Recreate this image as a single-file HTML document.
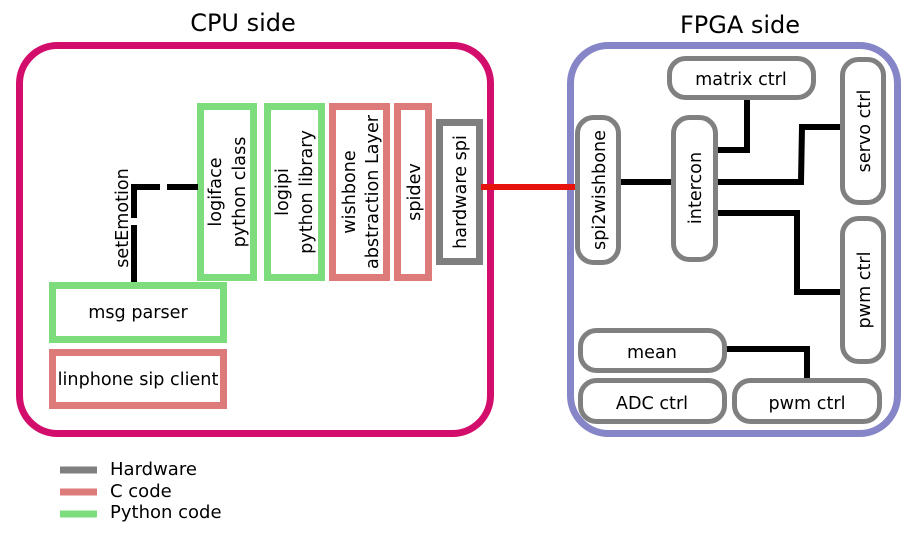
<!DOCTYPE html>
<html><head><style>body{margin:0;background:#fff}svg{display:block}text{font-family:"DejaVu Sans","Liberation Sans",sans-serif;fill:#000}</style></head><body>
<svg width="917" height="536" viewBox="0 0 917 536" xmlns="http://www.w3.org/2000/svg">
<text x="243" y="31" font-size="24" text-anchor="middle">CPU side</text>
<text x="740" y="33" font-size="24" text-anchor="middle">FPGA side</text>
<rect x="19.5" y="45.5" width="471" height="388" rx="38" fill="none" stroke="#d30d6b" stroke-width="7"/>
<rect x="570.5" y="45.5" width="327" height="388" rx="38" fill="none" stroke="#8585c8" stroke-width="7"/>
<g fill="none" stroke-width="7">
<rect x="200.5" y="106.5" width="53" height="171" stroke="#7ddd7d"/>
<rect x="267.5" y="106.5" width="54" height="171" stroke="#7ddd7d"/>
<rect x="332.5" y="106.5" width="54" height="171" stroke="#dd7a7a"/>
<rect x="397.5" y="106.5" width="31" height="171" stroke="#dd7a7a"/>
<rect x="439.5" y="122.5" width="40" height="139" stroke="#7f7f7f"/>
<rect x="52.5" y="285.5" width="171" height="54" stroke="#7ddd7d"/>
<rect x="52.5" y="352.5" width="171" height="53" stroke="#dd7a7a"/>
</g>
<g stroke="#000" stroke-width="6" fill="none">
<path d="M134 282 V225 M134 218 V187 H160 M167 187 H198"/>
</g>
<line x1="481" y1="187" x2="576" y2="187" stroke="#e8120c" stroke-width="6"/>
<g stroke="#000" stroke-width="6" fill="none">
<path d="M619 182 H673"/>
<path d="M716 150 H747 V99"/>
<path d="M716 182 H801 L802 127 H842"/>
<path d="M716 213 H797 V292 H842"/>
<path d="M725 349 H807 V380"/>
</g>
<g fill="#fff" stroke="#808080" stroke-width="5">
<rect x="669.5" y="58.5" width="144" height="39" rx="16"/>
<rect x="842.5" y="59.5" width="41" height="143" rx="16"/>
<rect x="577.5" y="117.5" width="41" height="145" rx="16"/>
<rect x="673.5" y="117.5" width="42" height="142" rx="16"/>
<rect x="842.5" y="218.5" width="41" height="143" rx="16"/>
<rect x="580.5" y="330.5" width="144" height="40" rx="16"/>
<rect x="580.5" y="380.5" width="144" height="41" rx="16"/>
<rect x="734.5" y="380.5" width="145" height="41" rx="16"/>
</g>
<g font-size="17.6" text-anchor="middle">
<text x="138" y="318">msg parser</text>
<text x="138" y="385">linphone sip client</text>
<text x="741" y="85">matrix ctrl</text>
<text x="652" y="358">mean</text>
<text x="652" y="409">ADC ctrl</text>
<text x="807" y="409">pwm ctrl</text>
<text transform="translate(128,218) rotate(-90)">setEmotion</text>
<text transform="translate(221,192) rotate(-90)">logiface</text>
<text transform="translate(245,192) rotate(-90)">python class</text>
<text transform="translate(288,192) rotate(-90)">logipi</text>
<text transform="translate(312,192) rotate(-90)">python library</text>
<text transform="translate(355,192) rotate(-90)">wishbone</text>
<text transform="translate(378,192) rotate(-90)">abstraction Layer</text>
<text transform="translate(420,192) rotate(-90)">spidev</text>
<text transform="translate(466,192) rotate(-90)">hardware spi</text>
<text transform="translate(605,190) rotate(-90)">spi2wishbone</text>
<text transform="translate(701,188) rotate(-90)">intercon</text>
<text transform="translate(870,131) rotate(-90)">servo ctrl</text>
<text transform="translate(870,290) rotate(-90)">pwm ctrl</text>
</g>
<g stroke-width="7">
<line x1="60" y1="470" x2="97" y2="470" stroke="#7f7f7f"/>
<line x1="60" y1="492" x2="97" y2="492" stroke="#dd7a7a"/>
<line x1="60" y1="514" x2="97" y2="514" stroke="#7ddd7d"/>
</g>
<g font-size="18">
<text x="110" y="475">Hardware</text>
<text x="110" y="497">C code</text>
<text x="110" y="518">Python code</text>
</g>
</svg>
</body></html>
